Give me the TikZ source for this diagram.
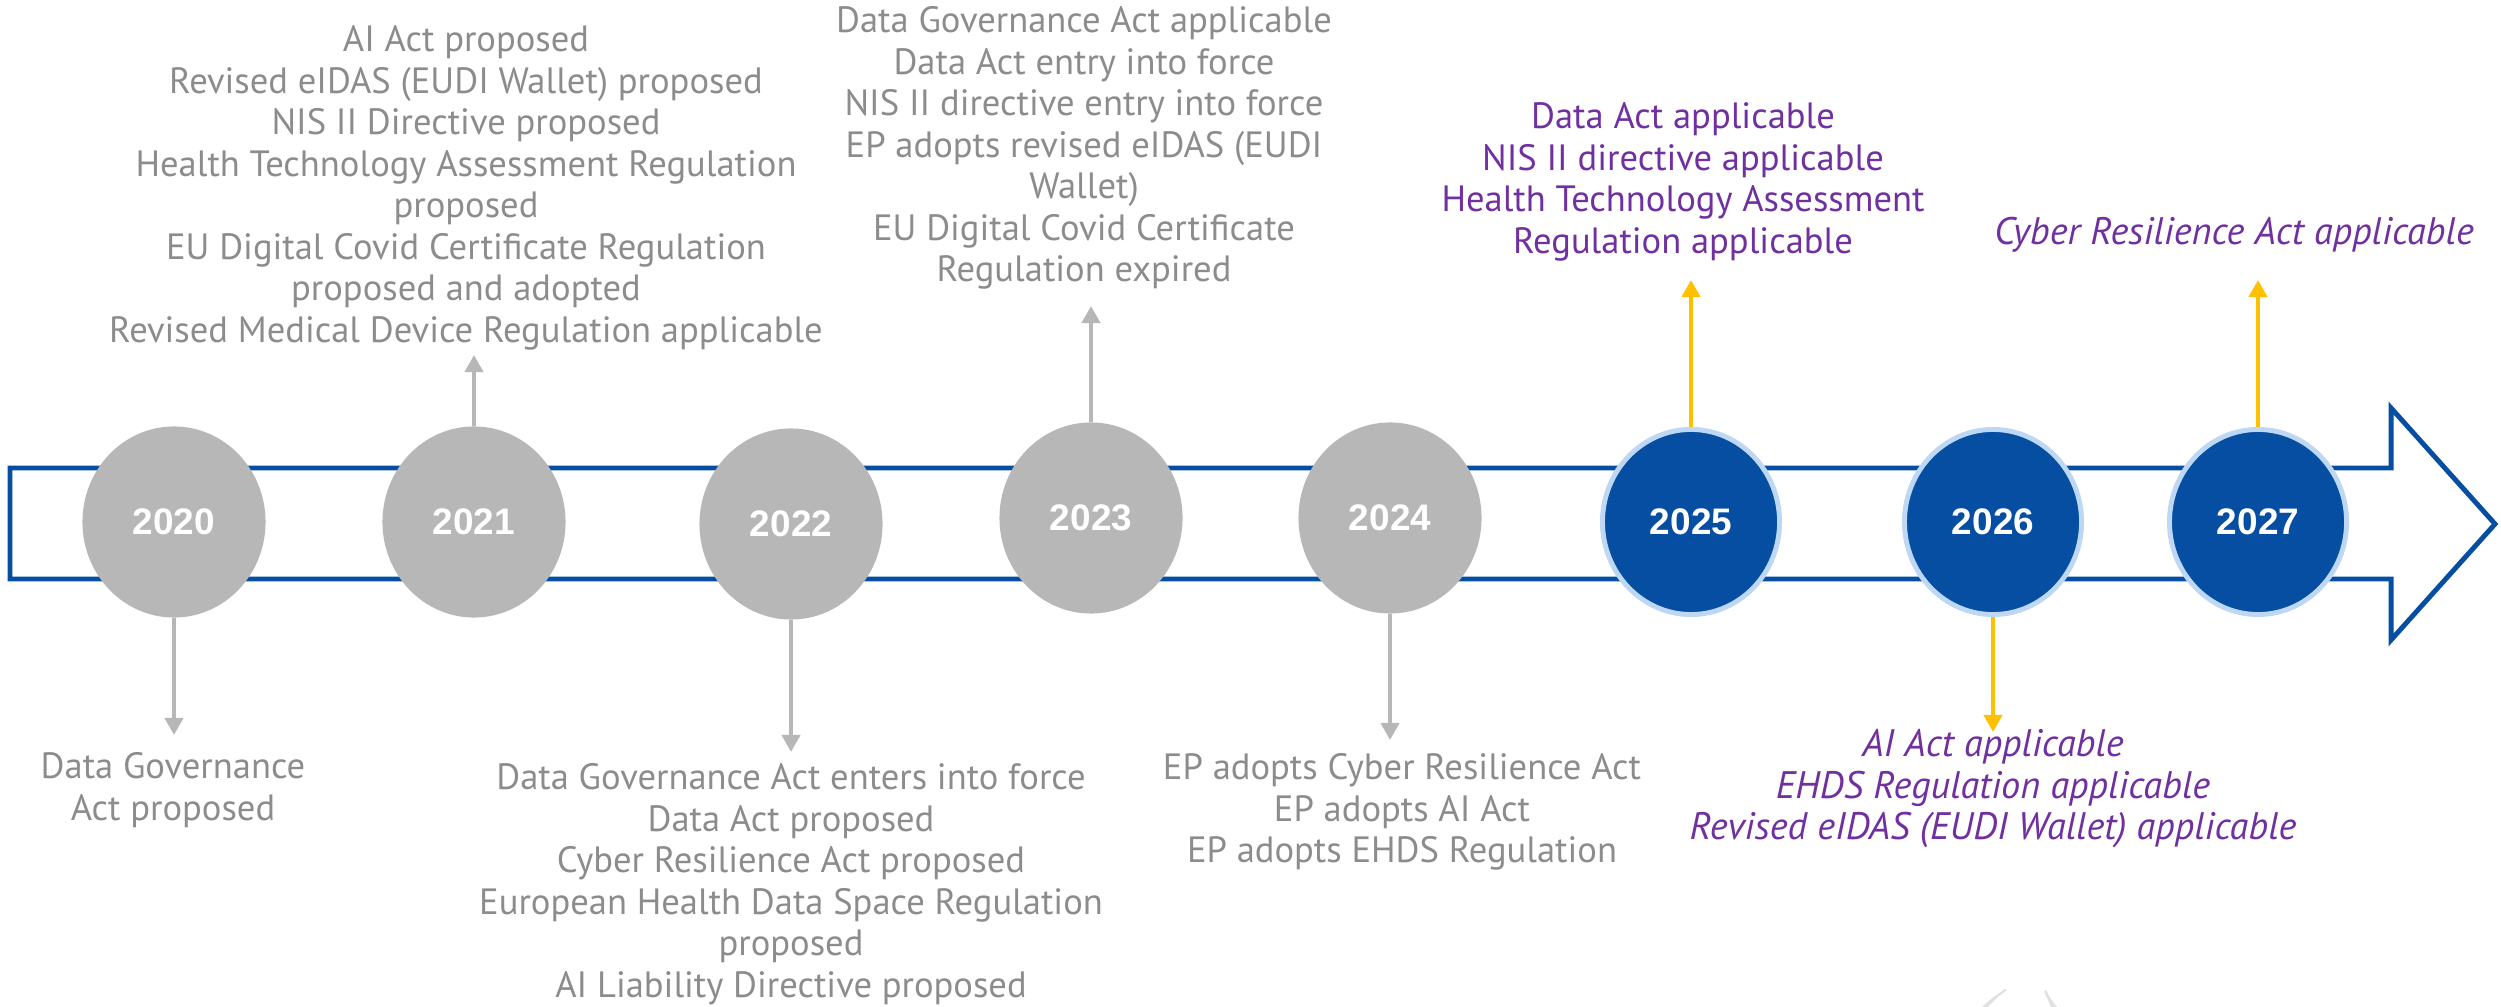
\documentclass[tikz,border=0pt]{standalone}
\usepackage{fontspec}
\setmainfont{PT Sans}
\newfontfamily\yrfont{Liberation Sans}
\usetikzlibrary{shapes.geometric,arrows.meta}
\definecolor{eublue}{HTML}{054EA2}
\definecolor{lightrim}{HTML}{BDD7F5}
\definecolor{circgray}{HTML}{B7B7B7}
\definecolor{txtgray}{HTML}{8C8C8C}
\definecolor{applpurple}{HTML}{7030A0}
\definecolor{gold}{HTML}{FFC000}
\begin{document}
\begin{tikzpicture}[x=0.01cm,y=-0.01cm,yr/.style={ellipse,minimum width=1.83cm,minimum height=1.91cm,inner sep=0pt,fill=circgray,text=white,font=\yrfont\bfseries\fontsize{10.5}{12}\selectfont},yrnew/.style={yr,fill=eublue,draw=lightrim,line width=1.4pt,minimum width=1.77cm,minimum height=1.85cm},ev/.style={align=center,text=txtgray,inner sep=0pt,font=\fontsize{10.4}{11.8}\selectfont},evnew/.style={ev,text=applpurple},evit/.style={evnew,font=\itshape\fontsize{10.9}{11.8}\selectfont},lnold/.style={draw=circgray,line width=1.15pt,-{Triangle[width=1.8mm,length=1.7mm]}},lnnew/.style={lnold,draw=gold}]
\useasboundingbox (0,0) rectangle (2501,1007);
\draw[eublue,line width=1.4pt,fill=white,line join=miter] (10,468) -- (2391,468) -- (2391,408) -- (2495,524) -- (2391,640) -- (2391,579) -- (10,579) -- cycle;

\node[yr] (y20) at (174,522) {2020};
\node[yr] (y21) at (474,522) {2021};
\node[yr] (y22) at (791,524) {2022};
\node[yr] (y23) at (1091,518) {2023};
\node[yr] (y24) at (1390,518) {2024};
\node[yrnew] (y25) at (1691,522) {2025};
\node[yrnew] (y26) at (1993,522) {2026};
\node[yrnew] (y27) at (2258,522) {2027};

\coordinate (a20) at (174,735);
\coordinate (a21) at (474,355);
\coordinate (a22) at (791,752);
\coordinate (a23) at (1091,306);
\coordinate (a24) at (1390,740);
\coordinate (a25) at (1691,280);
\coordinate (a26) at (1993,732);
\coordinate (a27) at (2258,280);

\draw[lnold] (y20.south) -- (a20);
\draw[lnold] (y21.north) -- (a21);
\draw[lnold] (y22.south) -- (a22);
\draw[lnold] (y23.north) -- (a23);
\draw[lnold] (y24.south) -- (a24);
\draw[lnnew] (y25.north) -- (a25);
\draw[lnnew] (y26.south) -- (a26);
\draw[lnnew] (y27.north) -- (a27);

\node[ev] (e20) at (173,790) {Data Governance\\Act proposed};
\node[ev] (e21) at (466,188) {AI Act proposed\\Revised eIDAS (EUDI Wallet) proposed\\NIS II Directive proposed\\Health Technology Assessment Regulation\\proposed\\EU Digital Covid Certificate Regulation\\proposed and adopted\\Revised Medical Device Regulation applicable};
\node[ev] (e22) at (791,884) {Data Governance Act enters into force\\Data Act proposed\\Cyber Resilience Act proposed\\European Health Data Space Regulation\\proposed\\AI Liability Directive proposed};
\node[ev] (e23) at (1084,148) {Data Governance Act applicable\\Data Act entry into force\\NIS II directive entry into force\\EP adopts revised eIDAS (EUDI\\Wallet)\\EU Digital Covid Certificate\\Regulation expired};
\node[ev] (e24) at (1402,812) {EP adopts Cyber Resilience Act\\EP adopts AI Act\\EP adopts EHDS Regulation};
\node[evnew] (e25) at (1683,182) {Data Act applicable\\NIS II directive applicable\\Health Technology Assessment\\Regulation applicable};
\node[evit] (e26) at (1993,789) {AI Act applicable\\EHDS Regulation applicable\\Revised eIDAS (EUDI Wallet) applicable};
\node[evit] (e27) at (2234,235) {Cyber Resilience Act applicable};

\fill[black!12] (1988,1007) .. controls (1995,999) .. (2007,990) -- (2005,989) .. controls (1992,998) .. (1982,1007) -- cycle;
\fill[black!12] (2046,990) .. controls (2050,998) .. (2057,1007) -- (2051,1007) .. controls (2047,999) .. (2044,991) -- cycle;
\end{tikzpicture}
\end{document}
